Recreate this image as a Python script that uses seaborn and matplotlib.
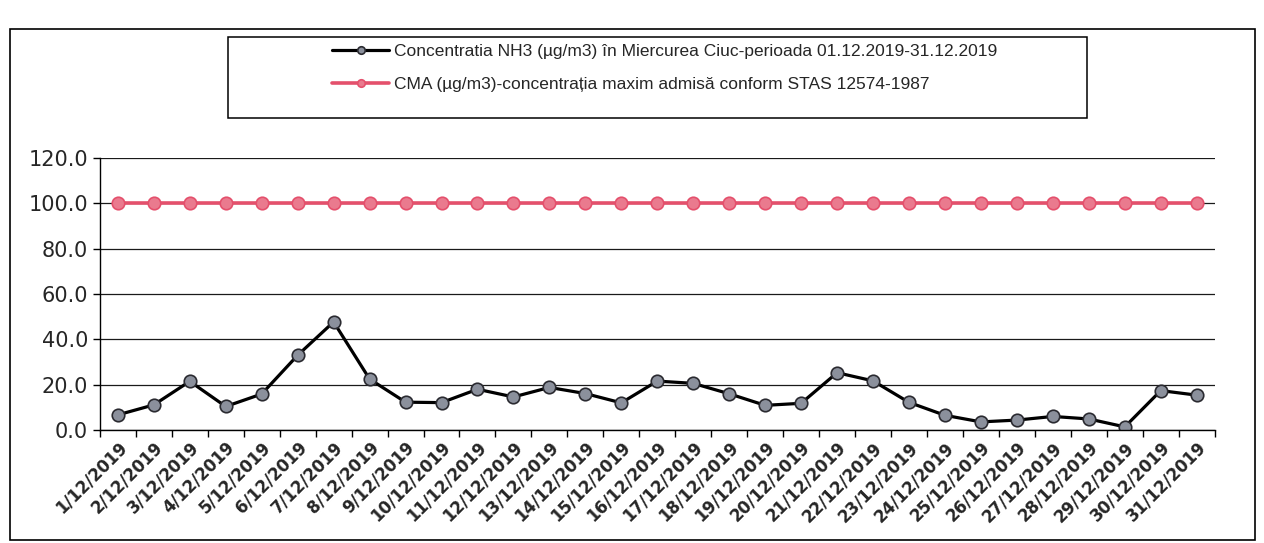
import pandas as pd
import seaborn as sns
import matplotlib.pyplot as plt
from matplotlib.patches import Rectangle
from matplotlib.ticker import FixedLocator

# daily values
days = [f'{d}/12/2019' for d in range(1, 32)]
nh3 = [6.7, 11.1, 21.5, 10.4, 15.9, 33.0, 47.7, 22.5, 12.3, 12.1,
       18.0, 14.6, 18.8, 16.1, 12.0, 21.6, 20.6, 16.0, 10.9, 11.8,
       25.3, 21.7, 12.2, 6.5, 3.6, 4.4, 6.0, 4.9, 1.4, 17.4, 15.4]
cma = [100.0] * 31
y_ticks = [0, 20, 40, 60, 80, 100, 120]

label_nh3 = 'Concentratia NH3 (µg/m3) în Miercurea Ciuc-perioada 01.12.2019-31.12.2019'
label_cma = 'CMA (µg/m3)-concentrația maxim admisă conform STAS 12574-1987'

df = pd.DataFrame({'pos': range(len(days)), 'day': days, 'nh3': nh3, 'cma': cma})

sns.set_style('white')
plt.rcParams['font.family'] = ['DejaVu Sans']

fig = plt.figure(figsize=(12.64, 5.43), dpi=100)
ax = fig.add_axes([0.079, 0.208, 0.882, 0.501])

sns.lineplot(data=df, x='pos', y='nh3', ax=ax, color='black', linewidth=2.3,
             marker='o', markersize=9, markerfacecolor='#8b909c',
             markeredgecolor='#2a2a30', markeredgewidth=1.2, label=label_nh3)
sns.lineplot(data=df, x='pos', y='cma', ax=ax, color='#e4506c', linewidth=2.6,
             marker='o', markersize=9, markerfacecolor='#ea7a8e',
             markeredgecolor='#e4506c', markeredgewidth=1.2, label=label_cma)

ax.set_xlim(-0.5, len(days) - 0.5)
ax.set_ylim(0, 120)
ax.set_yticks(y_ticks)
ax.set_yticklabels([f'{v:.1f}' for v in y_ticks], fontsize=15)
ax.yaxis.grid(True, color='#1a1a1a', linewidth=0.9)
ax.set_axisbelow(True)

ax.set_xticks(df['pos'])
ax.set_xticklabels(days, rotation=45, ha='right', rotation_mode='anchor',
                   fontsize=12, fontweight='bold')
ax.xaxis.set_minor_locator(FixedLocator([p - 0.5 for p in range(len(days) + 1)]))
ax.tick_params(axis='x', which='major', length=0, pad=6)
ax.tick_params(axis='x', which='minor', length=5, width=1, color='black', direction='out', bottom=True)
ax.tick_params(axis='y', length=5, width=1, color='black', direction='out', left=True)

ax.set_xlabel('')
ax.set_ylabel('')
for side in ['top', 'right']:
    ax.spines[side].set_visible(False)
for side in ['left', 'bottom']:
    ax.spines[side].set_color('black')
    ax.spines[side].set_linewidth(1.0)

ax.get_legend().remove()
handles, labels = ax.get_legend_handles_labels()
leg = fig.legend(handles, labels, loc='center', bbox_to_anchor=(0.526, 0.875),
                 fontsize=12.5, frameon=False, handlelength=3.3, markerscale=0.6,
                 labelspacing=1.0, handletextpad=0.3)
for t in leg.get_texts():
    t.set_family(['Liberation Sans', 'DejaVu Sans'])

# legend box, wider than its content as in the original
fig.patches.append(Rectangle((0.180, 0.783), 0.680, 0.149, transform=fig.transFigure,
                             fill=False, edgecolor='black', linewidth=1.1))
# chart area border
fig.patches.append(Rectangle((0.008, 0.006), 0.985, 0.94, transform=fig.transFigure,
                             fill=False, edgecolor='black', linewidth=1.2))

fig.savefig('out.png', dpi=100)
